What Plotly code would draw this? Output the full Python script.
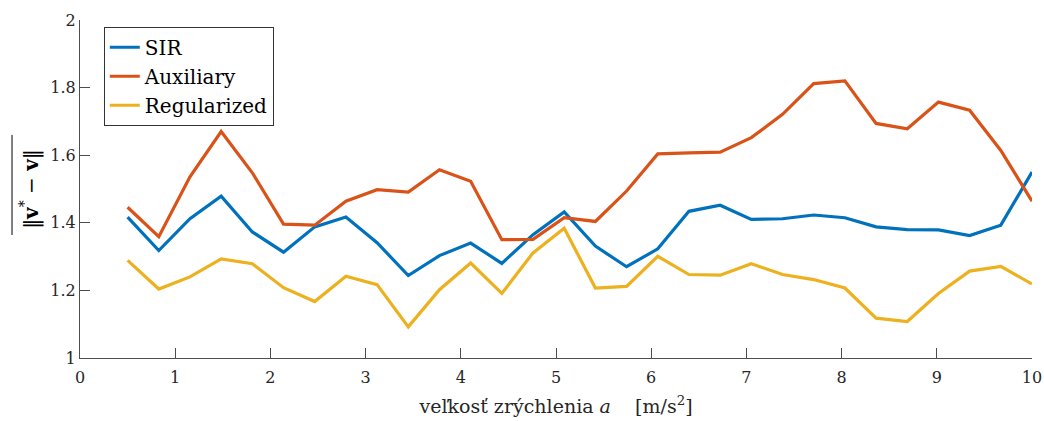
import numpy as np
import plotly.graph_objects as go

x_vals = np.linspace(0.5, 10, 30)

sir = [1.417, 1.318, 1.412, 1.479, 1.373, 1.313, 1.388, 1.417, 1.341, 1.244,
       1.303, 1.340, 1.280, 1.365, 1.432, 1.331, 1.270, 1.323, 1.434, 1.452,
       1.410, 1.412, 1.423, 1.415, 1.388, 1.380, 1.379, 1.362, 1.393, 1.550]

auxiliary = [1.446, 1.359, 1.536, 1.670, 1.548, 1.396, 1.393, 1.464, 1.498, 1.491,
             1.557, 1.523, 1.350, 1.351, 1.415, 1.404, 1.494, 1.604, 1.607, 1.609,
             1.652, 1.721, 1.812, 1.820, 1.694, 1.678, 1.757, 1.733, 1.614, 1.464]

regularized = [1.289, 1.204, 1.240, 1.293, 1.279, 1.208, 1.167, 1.242, 1.217, 1.092,
               1.202, 1.281, 1.191, 1.311, 1.384, 1.207, 1.212, 1.301, 1.247, 1.245,
               1.279, 1.247, 1.232, 1.207, 1.118, 1.108, 1.191, 1.257, 1.271, 1.219]

series_names = ["SIR", "Auxiliary", "Regularized"]
colors = ["#0072BD", "#D95319", "#EDB120"]

x_ticks = [0, 1, 2, 3, 4, 5, 6, 7, 8, 9, 10]
y_ticks = [1, 1.2, 1.4, 1.6, 1.8, 2]
y_tick_labels = ["1", "1.2", "1.4", "1.6", "1.8", "2"]

FONT = "DejaVu Serif"
AXC = "#4d4d4d"
TXT = "#262626"

fig = go.Figure()
for name, ys, c in zip(series_names, [sir, auxiliary, regularized], colors):
    fig.add_trace(go.Scatter(x=x_vals, y=ys, mode="lines", name=name,
                             line=dict(color=c, width=3.2)))

fig.update_layout(
    width=1044, height=421,
    margin=dict(l=80, r=12, t=20, b=63, autoexpand=False),
    paper_bgcolor="white", plot_bgcolor="white",
    font=dict(family=FONT, size=16, color=TXT),
    showlegend=True,
    legend=dict(x=0.025, y=0.98, xanchor="left", yanchor="top",
                bgcolor="white", bordercolor="#333333", borderwidth=1,
                font=dict(family=FONT, size=20, color="#000000"),
                tracegroupgap=0),
    shapes=[dict(type="line", xref="paper", yref="paper",
                 x0=-0.0714, x1=-0.0714, y0=0.364, y1=0.66,
                 line=dict(color="#000000", width=1))],
)
fig.update_xaxes(range=[0, 10], tickvals=x_ticks, ticks="inside", ticklen=10,
                 tickcolor=AXC, showline=True, linecolor=AXC, linewidth=1,
                 showgrid=False, zeroline=False, mirror=False, automargin=False,
                 ticklabelstandoff=5,
                 tickfont=dict(family=FONT, size=16, color=TXT),
                 title=dict(text="veľkosť zrýchlenia <i>a</i>\u00a0\u00a0\u00a0\u00a0[m/s<sup>2</sup>]",
                            font=dict(family=FONT, size=19, color=TXT), standoff=13))
fig.update_yaxes(range=[1, 2], tickvals=y_ticks, ticktext=y_tick_labels,
                 ticks="inside", ticklen=10,
                 tickcolor=AXC, showline=True, linecolor=AXC, linewidth=1,
                 showgrid=False, zeroline=False, mirror=False, automargin=False,
                 tickfont=dict(family=FONT, size=16, color=TXT),
                 title=dict(text="‖<b>v</b><sup>*</sup> − <b>v</b>‖",
                            font=dict(family=FONT, size=20, color="#000000"), standoff=6))

fig.write_html("out.html", config={"displayModeBar": False},
               post_script="document.body.style.margin='0px';")
